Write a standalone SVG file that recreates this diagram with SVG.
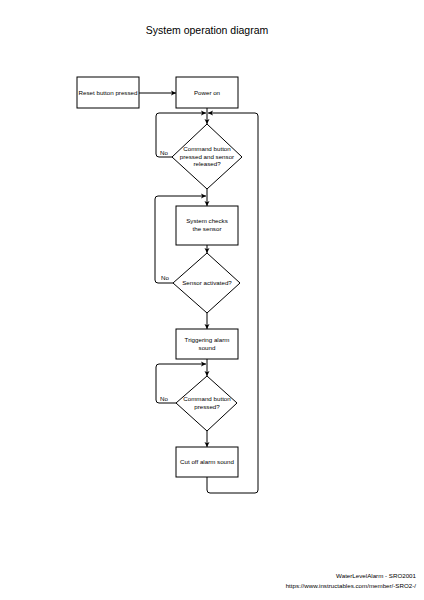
<svg xmlns="http://www.w3.org/2000/svg" width="424" height="600" viewBox="0 0 424 600">
<defs>
<marker id="arr" markerWidth="6" markerHeight="6" refX="5" refY="3" orient="auto" markerUnits="userSpaceOnUse">
<path d="M0,0.5 L5,3 L0,5.5 L1.2,3 Z" fill="#000"/>
</marker>
</defs>
<style>
.box{fill:#fff;stroke:#000;stroke-width:1}
.t{font-family:"Liberation Sans",Arial,sans-serif;font-size:6.2px;fill:#000;text-anchor:middle}
.c{fill:none;stroke:#000;stroke-width:1;marker-end:url(#arr)}
</style>
<rect width="424" height="600" fill="#fff"/>
<text x="207" y="34" font-family="'Liberation Sans',Arial,sans-serif" font-size="10.5" text-anchor="middle">System operation diagram</text>
<g id="connectors">
<path class="c" d="M139,93 L176,93"/>
<path class="c" d="M207,108 L207,124"/>
<path class="c" d="M172,157 L159,157 Q156,157 156,154 L156,116 Q156,113 159,113 L206,113"/>
<path class="c" d="M207,477 L207,490 Q207,493 210,493 L255,493 Q258,493 258,490 L258,116 Q258,113 255,113 L208,113"/>
<path class="c" d="M207,189 L207,206"/>
<path class="c" d="M173,283 L158,283 Q155,283 155,280 L155,199 Q155,196 158,196 L206,196"/>
<path class="c" d="M207,245 L207,253"/>
<path class="c" d="M207,313 L207,329"/>
<path class="c" d="M207,359 L207,376"/>
<path class="c" d="M176,403 L159,403 Q156,403 156,400 L156,367 Q156,364 159,364 L206,364"/>
<path class="c" d="M207,431 L207,447"/>
<text x="164" y="155" class="t">No</text>
<text x="165" y="280" class="t">No</text>
<text x="164" y="401" class="t">No</text>
</g>
<g id="reset">
<rect class="box" x="77" y="77" width="62" height="31"/>
<text x="108" y="95" class="t">Reset button pressed</text>
</g>
<g id="power">
<rect class="box" x="176" y="77" width="62" height="31"/>
<text x="207" y="95" class="t">Power on</text>
</g>
<g id="dec1">
<path class="box" d="M207,124 L242,157 L207,189 L172,157 Z"/>
<text x="207" y="151" class="t">Command button</text>
<text x="207" y="158.5" class="t">pressed and sensor</text>
<text x="207" y="166" class="t">released?</text>
</g>
<g id="checks">
<rect class="box" x="176" y="206" width="62" height="39"/>
<text x="207" y="223" class="t">System checks</text>
<text x="207" y="230.5" class="t">the sensor</text>
</g>
<g id="dec2">
<path class="box" d="M207,253 L240,283 L207,313 L173,283 Z"/>
<text x="207" y="285" class="t">Sensor activated?</text>
</g>
<g id="trigger">
<rect class="box" x="176" y="329" width="62" height="30"/>
<text x="207" y="342" class="t">Triggering alarm</text>
<text x="207" y="349.5" class="t">sound</text>
</g>
<g id="dec3">
<path class="box" d="M207,376 L237,403 L207,431 L176,403 Z"/>
<text x="207" y="401" class="t">Command button</text>
<text x="207" y="408.5" class="t">pressed?</text>
</g>
<g id="cutoff">
<rect class="box" x="176" y="447" width="62" height="30"/>
<text x="207" y="464" class="t">Cut off alarm sound</text>
</g>
<text x="416" y="578" font-family="'Liberation Sans',Arial,sans-serif" font-size="6.2" text-anchor="end">WaterLevelAlarm - SRO2001</text>
<text x="416" y="588" font-family="'Liberation Sans',Arial,sans-serif" font-size="6.2" text-anchor="end">https://www.instructables.com/member/-SRO2-/</text>
</svg>
